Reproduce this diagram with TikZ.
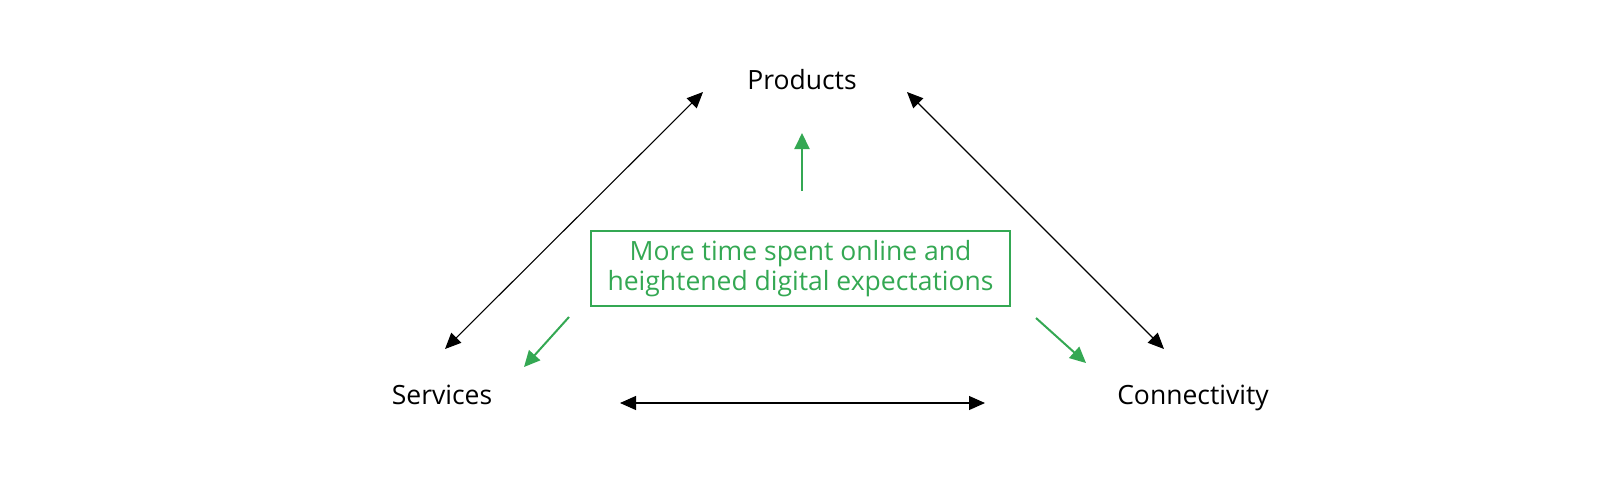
\documentclass[tikz,border=0pt]{standalone}
\usepackage{fontspec}
\setmainfont{Open Sans}
\usetikzlibrary{arrows.meta}
\definecolor{ggreen}{HTML}{34A853}
\begin{document}
\begin{tikzpicture}[x=1pt,y=-1pt,
  lbl/.style={font=\fontsize{26.5}{30}\selectfont, anchor=base, inner sep=0pt},
  blk/.style={line width=1.1pt, black, {Triangle[length=16pt,width=14pt]}-{Triangle[length=16pt,width=14pt]}},
  grn/.style={line width=2pt, ggreen, -{Triangle[length=16pt,width=15pt]}},
  gbox/.style={draw=ggreen, line width=1.5pt, text=ggreen, minimum width=419pt, minimum height=75pt, align=center, font=\fontsize{26.5}{30}\selectfont, inner sep=0pt}]
\useasboundingbox (0,0) rectangle (1600,488);
\node[lbl] (prod) at (802,89) {Products};
\node[lbl] (serv) at (442,404) {Services};
\node[lbl] (conn) at (1193,404) {Connectivity};
\node[gbox] (box) at (800.5,268.5) {More time spent online and\\heightened digital expectations\rule[-2pt]{0pt}{2pt}};
\coordinate (a1) at (445,349); \coordinate (a2) at (703,92);
\coordinate (b1) at (907,92); \coordinate (b2) at (1164,349);
\coordinate (c1) at (620,403); \coordinate (c2) at (985,403);
\coordinate (g1) at (802,191); \coordinate (g2) at (802,133);
\coordinate (h1) at (569,317); \coordinate (h2) at (524,367);
\coordinate (k1) at (1036,318); \coordinate (k2) at (1086,363);
\draw[blk] (a1) -- (a2);
\draw[blk] (b1) -- (b2);
\draw[blk] (c1) -- (c2);
\draw[grn] (g1) -- (g2);
\draw[grn] (h1) -- (h2);
\draw[grn] (k1) -- (k2);
\end{tikzpicture}
\end{document}
